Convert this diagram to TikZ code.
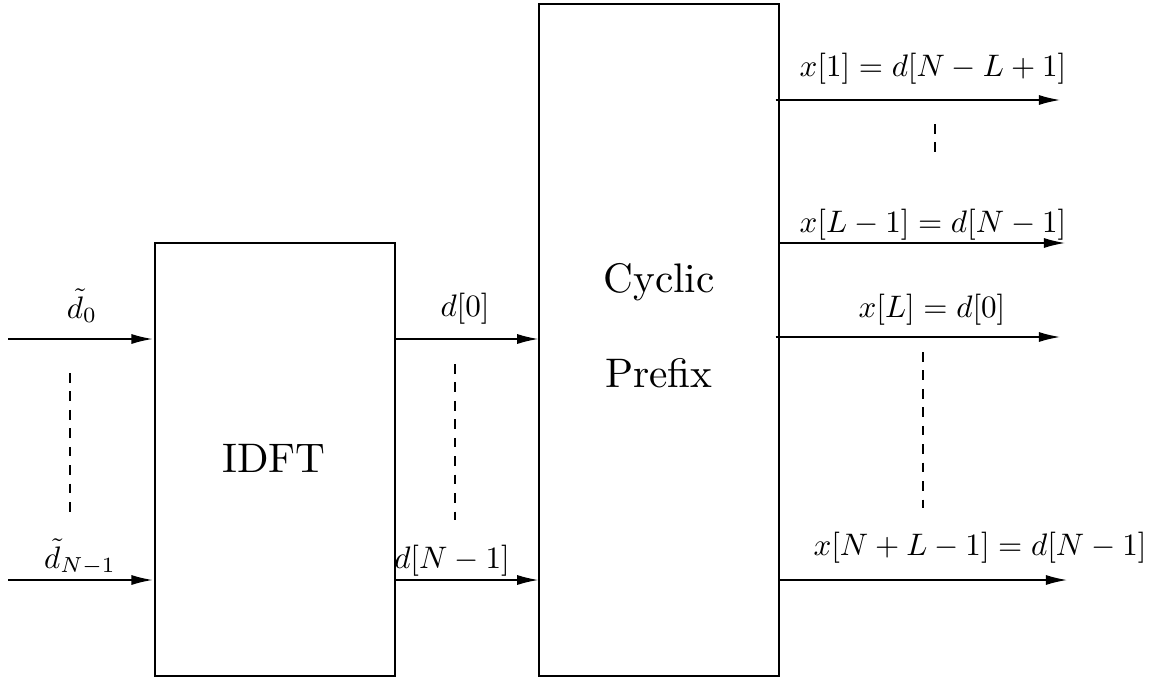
\documentclass[tikz,border=0pt]{standalone}
\usetikzlibrary{arrows.meta}

\newcommand{\coordPrefijo}{
\coordinate (e0) at (8,339);
\coordinate (e1) at (8,580);
\coordinate (s1) at (1060,100);
\coordinate (s2) at (1065,243);
\coordinate (s3) at (1060,337);
\coordinate (s4) at (1067,580);
}
\tikzset{
bloque/.style={draw,line width=0.8pt,minimum width=4.8cm,inner sep=0pt},
flecha/.style={line width=0.8pt,-{Latex[length=12pt,width=5.7pt]}},
puntos/.style={line width=0.8pt,dash pattern=on 5.5pt off 5pt},
etiqueta/.style={scale=1.77,transform shape,anchor=base,inner sep=0pt},
titulo/.style={scale=2.35,transform shape,font=\fontsize{10}{23}\selectfont,align=center,inner sep=0pt}
}

\begin{document}
\begin{tikzpicture}[x=0.02cm,y=-0.02cm]
    \useasboundingbox (0,0) rectangle (1159,679);
    \coordPrefijo

    % bloques
    \node[bloque,minimum height=8.66cm] (idft) at (275,459.5) {};
    \node[titulo] (idfttexto) at (274,458) {IDFT};
    \node[bloque,minimum height=13.44cm] (cp) at (659,340) {};
    \node[titulo] (cptexto) at (659,326) {Cyclic\\Prefix};

    % flechas
    \draw[flecha,shorten >=1pt] (e0) -- (e0 -| idft.west);
    \draw[flecha,shorten >=1pt] (e1) -- (e1 -| idft.west);
    \draw[flecha] (idft.east |- e0) -- (cp.west |- e0);
    \draw[flecha] (idft.east |- e1) -- (cp.west |- e1);
    \draw[flecha] ([xshift=-0.08cm]cp.east |- s1) -- (s1);
    \draw[flecha] (cp.east |- s2) -- (s2);
    \draw[flecha] ([xshift=-0.08cm]cp.east |- s3) -- (s3);
    \draw[flecha] (cp.east |- s4) -- (s4);

    % puntos suspensivos
    \draw[puntos] (70,373) -- (70,517);
    \draw[puntos] (455,364) -- (455,520);
    \draw[puntos] (935,124) -- (935,153);
    \draw[puntos] (923,352) -- (923,508);

    % etiquetas
    \node[etiqueta] (lin0) at (82,318) {$\tilde{d}_0$};
    \node[etiqueta] (lin1) at (80,568) {$\tilde{d}_{N-1}$};
    \node[etiqueta] (lmed0) at (465,316) {$d[0]$};
    \node[etiqueta] (lmed1) at (452,568) {$d[N-1]$};
    \node[etiqueta] (lsal1) at (933,77) {$x[1]=d[N-L+1]$};
    \node[etiqueta] (lsal2) at (933,232) {$x[L-1]=d[N-1]$};
    \node[etiqueta] (lsal3) at (932,317) {$x[L]=d[0]$};
    \node[etiqueta] (lsal4) at (980,555) {$x[N+L-1]=d[N-1]$};
\end{tikzpicture}
\end{document}
